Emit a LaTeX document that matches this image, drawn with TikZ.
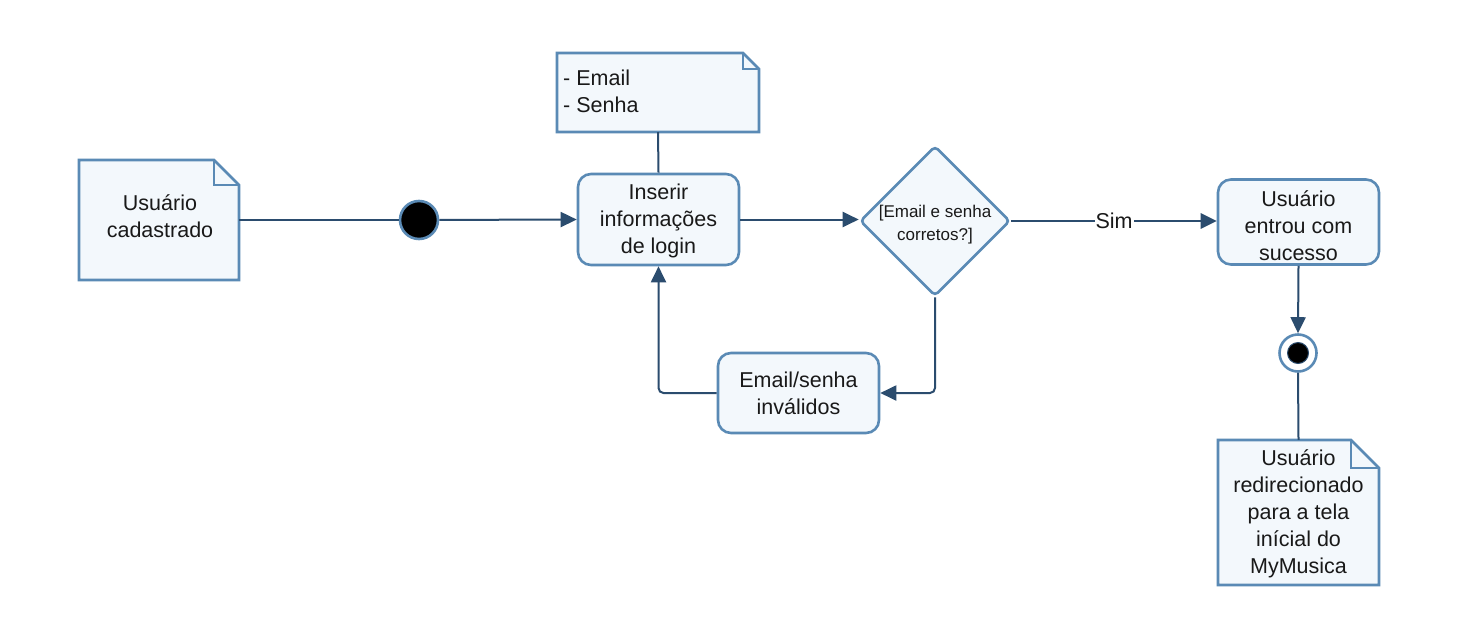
\documentclass[tikz,border=0pt]{standalone}
\usepackage{fontspec}
\setmainfont{Liberation Sans}
\usetikzlibrary{arrows.meta,shapes.geometric}
\definecolor{bord}{HTML}{5A8AB5}
\definecolor{fillc}{HTML}{F3F8FC}
\definecolor{conn}{HTML}{2B4C6E}
\newcommand\mynote[5]{%
  \filldraw[fill=fillc,draw=bord,line width=2.6pt,line join=miter]
    (#1,#2) -- ({#3-#5},#2) -- (#3,{#2+#5}) -- (#3,#4) -- (#1,#4) -- cycle;
  \draw[bord,line width=2.6pt] ({#3-#5},#2) -- ({#3-#5},{#2+#5}) -- (#3,{#2+#5});}
\begin{document}
\begin{tikzpicture}[x=1pt,y=-1pt,
  txt/.style={font=\fontsize{21.5}{27}\selectfont, text=black!90, align=center},
  box/.style={txt, draw=bord, fill=fillc, line width=2.6pt, rounded corners=13pt,
    minimum width=161pt, inner sep=0pt},
  notetxt/.style={txt, inner sep=0pt},
  conn/.style={draw=conn, line width=2pt},
  arr/.style={conn, -{Triangle[length=16pt,width=15pt]}},
]
\fill[white] (0,0) rectangle (1458,637);
\useasboundingbox (0,0) rectangle (1458,637);

% notes
\mynote{79}{160}{239}{280}{25}
\node[notetxt, minimum width=160pt, minimum height=120pt] (n1) at (159,220) {};
\node[notetxt] (n1t) at (160,216) {Usuário\\cadastrado};

\mynote{557}{53}{759}{132}{16}
\node[notetxt, minimum width=202pt, minimum height=79pt] (n2) at (658,92.5) {};
\node[notetxt, align=left, anchor=west] (n2t) at (563,91) {- Email\\- Senha};

\mynote{1218}{440}{1379}{585}{28}
\node[notetxt, minimum width=161pt, minimum height=145pt] (n3) at (1298.5,512.5) {};
\node[notetxt] (n3t) at (1298.5,514) {Usuário\\redirecionado\\para a tela\\inícial do\\MyMusica};

% start
\node[circle, fill=black, draw=bord, line width=2.6pt, minimum size=38pt, inner sep=0pt] (start) at (419,220) {};

% activities
\node[box, minimum height=91pt] (ins) at (658.5,219.5) {};
\node[txt] (inst) at (658.5,221) {Inserir\\informações\\de login};
\node[box, minimum height=85pt] (suc) at (1298.5,222) {};
\node[txt] (suct) at (1298.5,226) {Usuário\\entrou com\\sucesso};
\node[box, minimum height=80pt] (inv) at (798.5,393) {Email/senha\\inválidos};

% decision
\node[diamond, draw=bord, fill=fillc, line width=2.6pt, rounded corners=4pt,
  minimum width=150pt, minimum height=150pt, inner sep=0pt] (dia) at (935,221) {};
\node[align=center, text=black!90, font=\fontsize{17}{23}\selectfont] (diat) at (935,225) {[Email e senha\\corretos?]};

% end
\node[circle, draw=bord, fill=white, line width=2.6pt, minimum size=37pt, inner sep=0pt] (end) at (1298,353) {};
\node[circle, fill=black, draw=conn, line width=1pt, minimum size=21pt, inner sep=0pt] (endin) at (end.center) {};

% connectors
\draw[conn] (n1.east) -- (start);
\draw[arr] (start) -- (ins.west);
\draw[conn] (n2.south) -- (ins.north);
\draw[arr] (ins.east) -- (ins.east -| dia.west);
\draw[conn, line width=2.8pt, -{Triangle[length=16pt,width=15pt]}] (dia.east) --
  node[fill=white, inner sep=1pt, font=\fontsize{21.5}{27}\selectfont, text=black!90] (sim) {Sim} (suc.west |- dia.east);
\draw[arr] (suc.south) -- (end.north);
\draw[conn] (end.south) -- (n3.north);
\draw[arr, rounded corners=5pt] (dia.south) |- (inv.east);
\draw[arr, rounded corners=5pt] (inv.west) -| (ins.south);
\end{tikzpicture}
\end{document}
